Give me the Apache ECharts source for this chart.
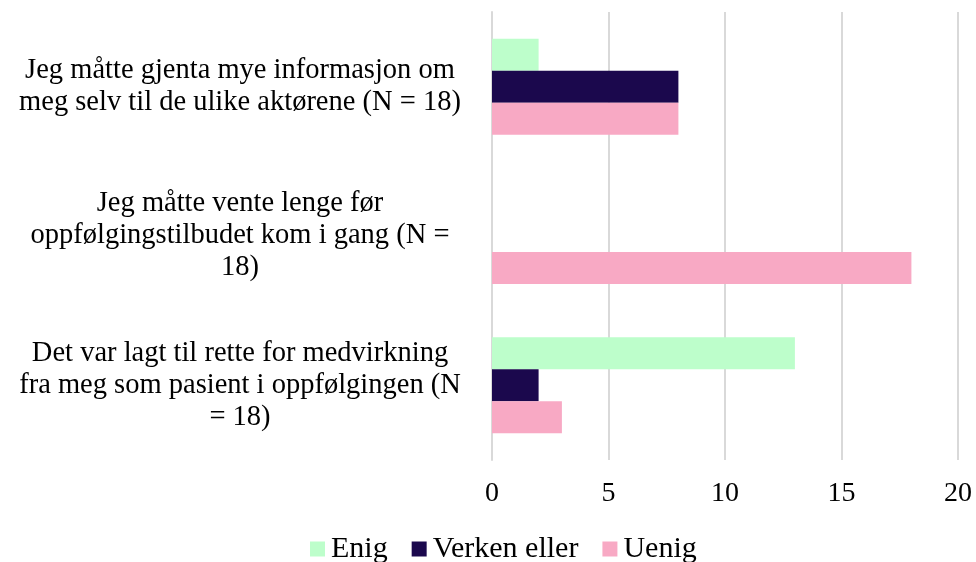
<!DOCTYPE html>
<html>
<head>
<meta charset="utf-8">
<script src="https://cdn.jsdelivr.net/npm/echarts@6/dist/echarts.min.js"></script>
<style>
  html, body { margin: 0; padding: 0; background: #fff; }
  #chart { width: 976px; height: 562px; }
</style>
</head>
<body>
<div id="chart"></div>
<script>
// kategorier, ovenfra og ned
const categories = [
  'Jeg måtte gjenta mye informasjon om\nmeg selv til de ulike aktørene (N = 18)',
  'Jeg måtte vente lenge før\noppfølgingstilbudet kom i gang (N =\n18)',
  'Det var lagt til rette for medvirkning\nfra meg som pasient i oppfølgingen (N\n= 18)'
]
const enig = [2, 0, 13]
const verken = [8, 0, 2]
const uenig = [8, 18, 3]
const xTicks = [0, 5, 10, 15, 20]

const font = 'Liberation Serif'
const chart = echarts.init(document.getElementById('chart'))

chart.setOption({
  animation: false,
  textStyle: { fontFamily: font, color: '#000' },
  grid: { left: 492, right: 18, top: 12, bottom: 102 },
  legend: {
    top: 529,
    left: 305,
    itemWidth: 15,
    itemHeight: 15,
    itemGap: 24,
    icon: 'rect',
    textStyle: { fontFamily: font, fontSize: 30, color: '#000', padding: [0, 0, 0, 1] },
    data: ['Enig', 'Verken eller', 'Uenig']
  },
  xAxis: {
    type: 'value',
    min: xTicks[0],
    max: xTicks[xTicks.length - 1],
    interval: 5,
    axisLine: { show: false },
    axisTick: { show: false },
    axisLabel: { fontFamily: font, fontSize: 28, color: '#000', margin: 20 },
    splitLine: { show: true, lineStyle: { color: '#d9d9d9', width: 2 } }
  },
  yAxis: {
    type: 'category',
    inverse: true,
    data: categories,
    axisLine: { show: true, lineStyle: { color: '#d9d9d9', width: 2 } },
    axisTick: { show: false },
    axisLabel: {
      fontFamily: font,
      fontSize: 28.5,
      lineHeight: 32,
      color: '#000',
      align: 'center',
      margin: 252
    }
  },
  series: [
    { name: 'Enig', type: 'bar', data: enig, barWidth: 32, barGap: '0%', barCategoryGap: '36%', itemStyle: { color: '#bdfecb' } },
    { name: 'Verken eller', type: 'bar', data: verken, barWidth: 32, itemStyle: { color: '#1b084d' } },
    { name: 'Uenig', type: 'bar', data: uenig, barWidth: 32, itemStyle: { color: '#f8a9c4' } }
  ]
})
</script>
</body>
</html>
